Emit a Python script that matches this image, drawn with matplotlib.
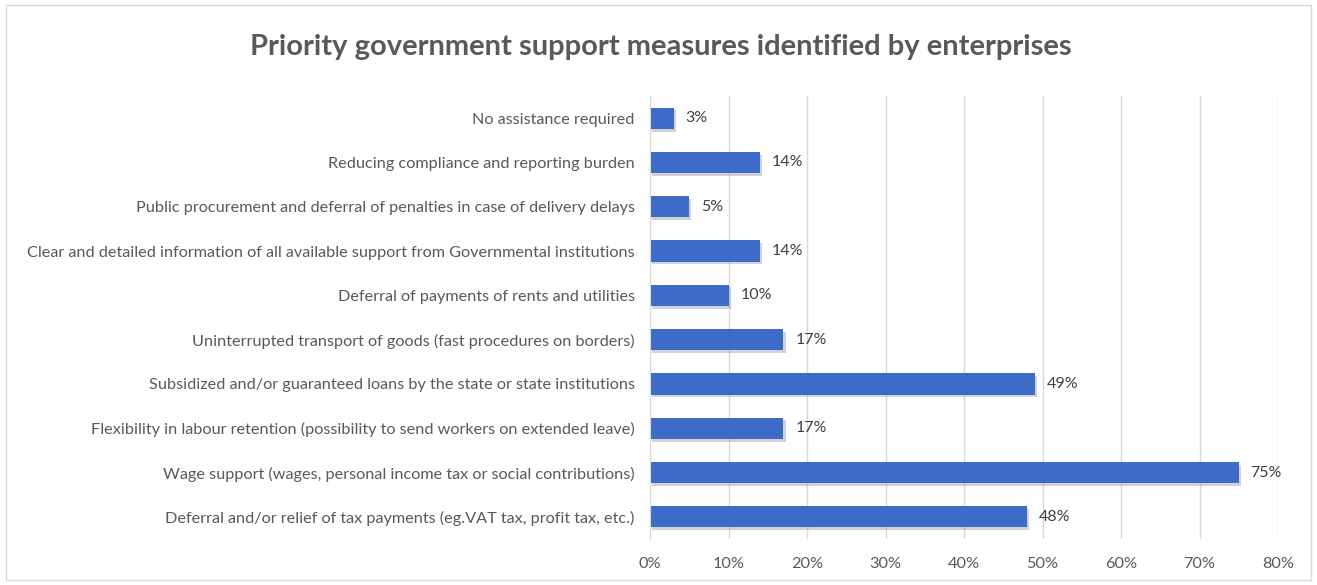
import matplotlib
matplotlib.use("Agg")
import matplotlib.pyplot as plt
from matplotlib.ticker import FuncFormatter, MultipleLocator
from matplotlib.patches import Rectangle
import matplotlib.patheffects as pe

categories = [
    "No assistance required",
    "Reducing compliance and reporting burden",
    "Public procurement and deferral of penalties in case of delivery delays",
    "Clear and detailed information of all available support from Governmental institutions",
    "Deferral of payments of rents and utilities",
    "Uninterrupted transport of goods (fast procedures on borders)",
    "Subsidized and/or guaranteed loans by the state or state institutions",
    "Flexibility in labour retention (possibility to send workers on extended leave)",
    "Wage support (wages, personal income tax or social contributions)",
    "Deferral and/or relief of tax payments (eg.VAT tax, profit tax, etc.)",
]
values = [0.03, 0.14, 0.05, 0.14, 0.10, 0.17, 0.49, 0.17, 0.75, 0.48]
title = "Priority government support measures identified by enterprises"

plt.rcParams['font.family'] = ['Lato', 'DejaVu Sans']

fig = plt.figure(figsize=(13.17, 5.85), dpi=100)
fig.patches.append(Rectangle((6/1317, 5/585), 1305/1317, 575/585, transform=fig.transFigure,
                             fill=False, edgecolor='#D9D9D9', linewidth=1))
ax = fig.add_axes([650/1317, 1 - 539/585, (1278 - 650)/1317, (539 - 96)/585])

n = len(categories)
ypos = list(range(n))[::-1]
bars = ax.barh(ypos, values, height=0.48, color='#3C6BC8', zorder=3)
for b in bars:
    b.set_path_effects([pe.SimplePatchShadow(offset=(1.5, -2), shadow_rgbFace='#909090', alpha=0.4), pe.Normal()])

for y, v in zip(ypos, values):
    ax.text(v + 0.015, y, f"{round(v*100)}%", va='center', ha='left', fontsize=11.5, color='#404040')

ax.set_xlim(0, 0.8)
ax.set_ylim(-0.5, n - 0.5)
ax.xaxis.set_major_locator(MultipleLocator(0.1))
ax.xaxis.set_major_formatter(FuncFormatter(lambda x, p: f"{round(x*100)}%"))
ax.set_yticks(ypos)
ax.set_yticklabels(categories)
ax.tick_params(axis='both', length=0, labelsize=11.7, labelcolor='#595959')
ax.tick_params(axis='x', pad=13)
ax.tick_params(axis='y', pad=11)
ax.grid(axis='x', color='#D9D9D9', linewidth=1, zorder=0)
for s in ['top', 'right', 'bottom']:
    ax.spines[s].set_visible(False)
ax.spines['left'].set_color('#D9D9D9')
ax.spines['left'].set_zorder(4)

fig.text(661/1317, 1 - 47/585, title, ha='center', va='center', fontsize=21,
         fontweight='bold', color='#595959')

fig.savefig("out.png", dpi=100)
